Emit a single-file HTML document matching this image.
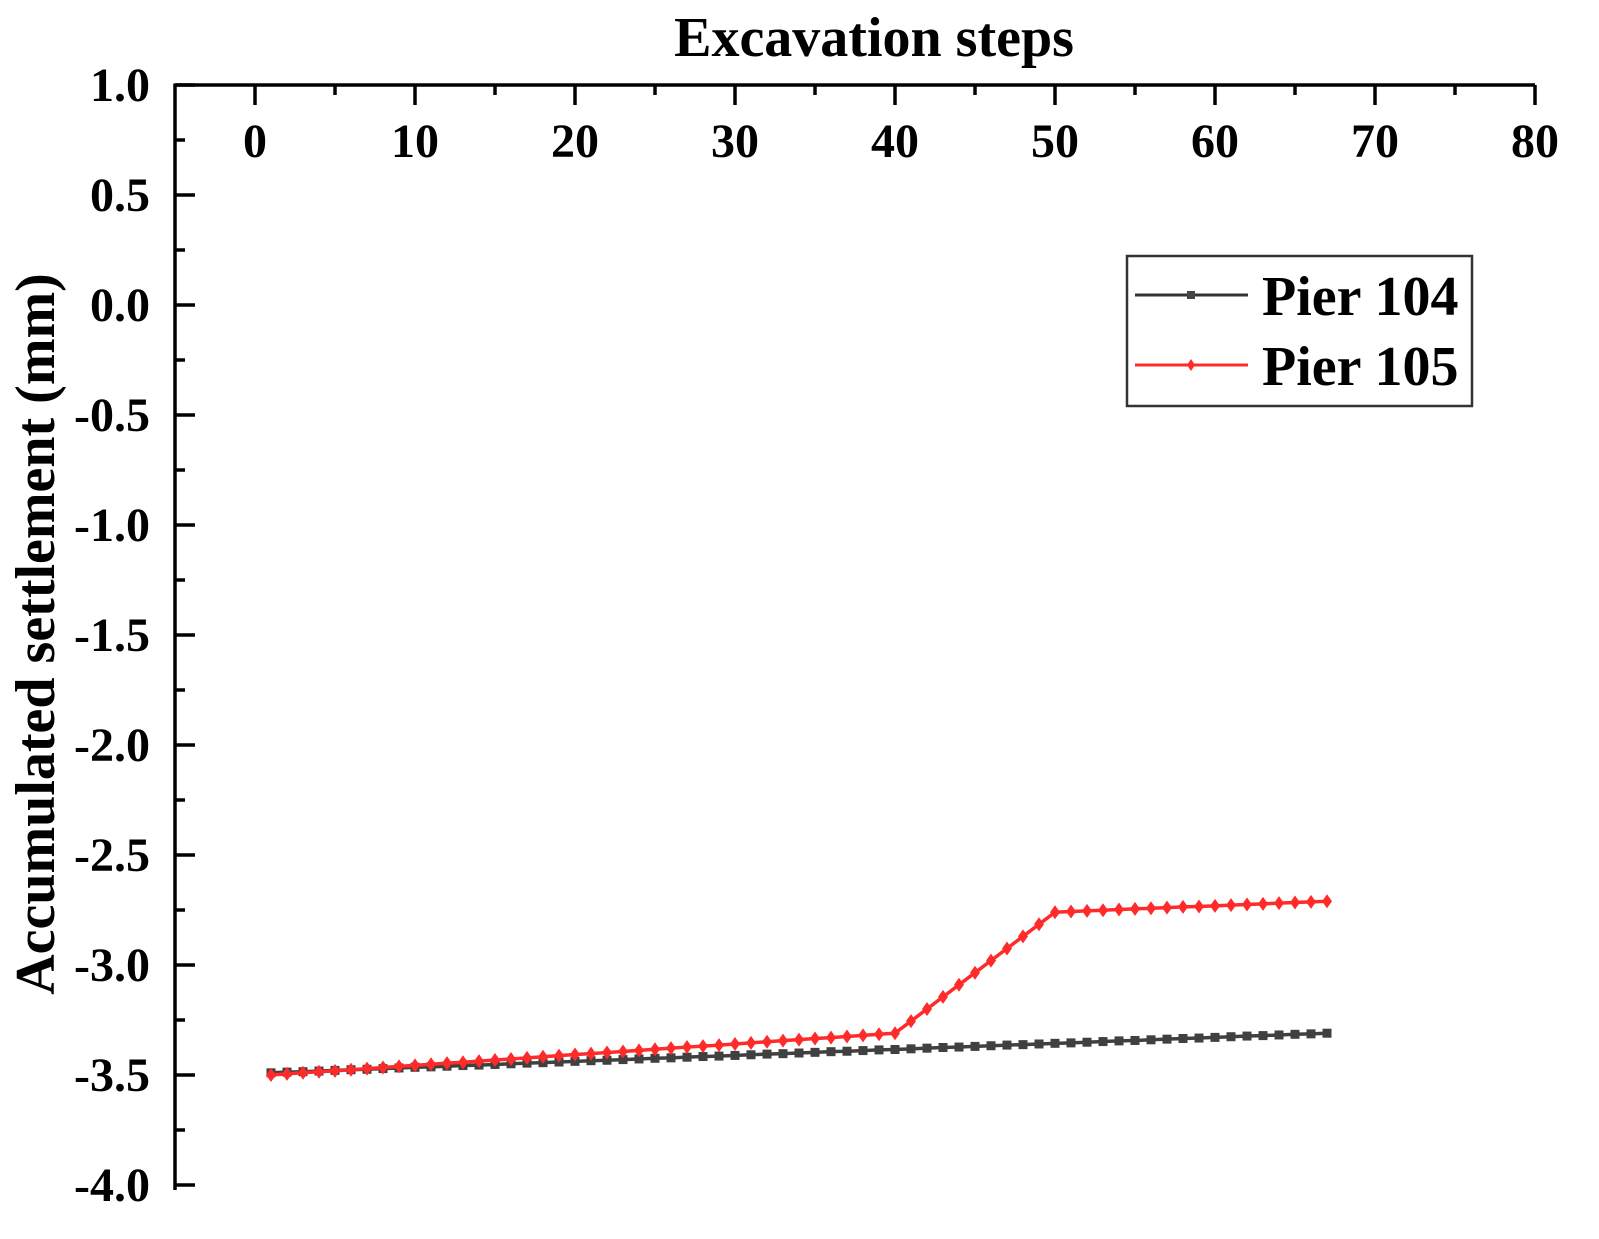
<!DOCTYPE html>
<html><head><meta charset="utf-8"><style>
html,body{margin:0;padding:0;background:#fff;}
svg{display:block;font-family:"Liberation Serif",serif;font-weight:bold;}
</style></head><body>
<svg id="chart" width="1599" height="1239" viewBox="0 0 1599 1239" xmlns="http://www.w3.org/2000/svg">
<g id="axes"></g>
<g id="series"></g>
<text x="874" y="56" text-anchor="middle" font-size="56">Excavation steps</text>
<text transform="translate(54,634) rotate(-90)" text-anchor="middle" font-size="56">Accumulated settlement (mm)</text>
<g>
<rect x="1127" y="256" width="345" height="150" fill="#fff" stroke="#333" stroke-width="2.5"/>
<g>
<line x1="1135" y1="295" x2="1248" y2="295" stroke="#333" stroke-width="3"/>
<rect x="1187" y="291" width="8" height="8" fill="#444"/>
<text x="1262" y="315" font-size="56">Pier 104</text></g>
<g>
<line x1="1135" y1="365" x2="1248" y2="365" stroke="#ff2a2a" stroke-width="3"/>
<path d="M1191 359 L1195 365 L1191 371 L1187 365Z" fill="#ff2a2a"/>
<text x="1262" y="385" font-size="56">Pier 105</text></g>
</g>
</svg>
<script>
const xTicks=[0,10,20,30,40,50,60,70,80];
const yTicks=[1.0,0.5,0.0,-0.5,-1.0,-1.5,-2.0,-2.5,-3.0,-3.5,-4.0];
const steps=[1,2,3,4,5,6,7,8,9,10,11,12,13,14,15,16,17,18,19,20,21,22,23,24,25,26,27,28,29,30,31,32,33,34,35,36,37,38,39,40,41,42,43,44,45,46,47,48,49,50,51,52,53,54,55,56,57,58,59,60,61,62,63,64,65,66,67];
const pier104=[-3.490,-3.487,-3.485,-3.482,-3.479,-3.476,-3.474,-3.471,-3.468,-3.465,-3.463,-3.460,-3.457,-3.455,-3.452,-3.449,-3.446,-3.444,-3.441,-3.438,-3.435,-3.433,-3.430,-3.427,-3.424,-3.422,-3.419,-3.416,-3.414,-3.411,-3.408,-3.405,-3.403,-3.400,-3.397,-3.394,-3.392,-3.389,-3.386,-3.384,-3.381,-3.378,-3.375,-3.373,-3.370,-3.367,-3.364,-3.362,-3.359,-3.356,-3.354,-3.351,-3.348,-3.345,-3.343,-3.340,-3.337,-3.334,-3.332,-3.329,-3.326,-3.323,-3.321,-3.318,-3.315,-3.313,-3.310];
const pier105=[-3.500,-3.495,-3.490,-3.485,-3.481,-3.476,-3.471,-3.466,-3.461,-3.456,-3.451,-3.446,-3.442,-3.437,-3.432,-3.427,-3.422,-3.417,-3.412,-3.407,-3.403,-3.398,-3.393,-3.388,-3.383,-3.378,-3.373,-3.369,-3.364,-3.359,-3.354,-3.349,-3.344,-3.339,-3.334,-3.330,-3.325,-3.320,-3.315,-3.310,-3.255,-3.200,-3.145,-3.090,-3.035,-2.980,-2.925,-2.870,-2.815,-2.760,-2.757,-2.754,-2.751,-2.748,-2.745,-2.742,-2.739,-2.736,-2.734,-2.731,-2.728,-2.725,-2.722,-2.719,-2.716,-2.713,-2.710];
const NS="http://www.w3.org/2000/svg";
const X0=255,XS=16.0,Y0=305,YS=220;
const xs=v=>X0+v*XS, ys=v=>Y0-v*YS;
const axes=document.getElementById('axes'), ser=document.getElementById('series');
function mk(tag,attrs,parent){const e=document.createElementNS(NS,tag);for(const k in attrs)e.setAttribute(k,attrs[k]);parent.appendChild(e);return e;}
const L=175,R=1535,T=85,B=1190;
let a=mk('line',{x1:L,y1:T,x2:R,y2:T,stroke:'#000','stroke-width':3.5},axes);


a=mk('line',{x1:L,y1:T-1.5,x2:L,y2:B,stroke:'#000','stroke-width':3.5},axes);


xTicks.forEach((t,i)=>{
  const x=xs(t);
  mk('line',{x1:x,y1:T,x2:x,y2:T+20,stroke:'#000','stroke-width':3.5},axes);
  if(i<xTicks.length-1){const m=xs(t+5);mk('line',{x1:m,y1:T,x2:m,y2:T+10,stroke:'#000','stroke-width':3.5},axes);}
  const tx=mk('text',{x:x,y:157,'text-anchor':'middle','font-size':48},axes);
  tx.textContent=String(t);
  
  
});
yTicks.forEach((t,i)=>{
  const y=ys(t);
  mk('line',{x1:L,y1:y,x2:L+20,y2:y,stroke:'#000','stroke-width':3.5},axes);
  if(i<yTicks.length-1){const m=ys(t-0.25);mk('line',{x1:L,y1:m,x2:L+10,y2:m,stroke:'#000','stroke-width':3.5},axes);}
  const tx=mk('text',{x:150,y:y+16,'text-anchor':'end','font-size':48},axes);
  tx.textContent=t.toFixed(1);
  
  
});
function drawSeries(vals,color,name,marker){
  const g=mk('g',{},ser);
  
  
  const pts=steps.map((s,i)=>xs(s)+','+ys(vals[i])).join(' ');
  mk('polyline',{points:pts,fill:'none',stroke:color,'stroke-width':3.5},g);
  steps.forEach((s,i)=>{
    const x=xs(s),y=ys(vals[i]);
    let m;
    if(marker==='sq') m=mk('rect',{x:x-4.5,y:y-4.5,width:9,height:9,fill:color},g);
    else m=mk('path',{d:`M${x} ${y-7}L${x+5} ${y}L${x} ${y+7}L${x-5} ${y}Z`,fill:color},g);
    
    
  });
}
drawSeries(pier104,'#404040','pier-104-series','sq');
drawSeries(pier105,'#ff2a2a','pier-105-series','dia');
</script>
</body></html>
